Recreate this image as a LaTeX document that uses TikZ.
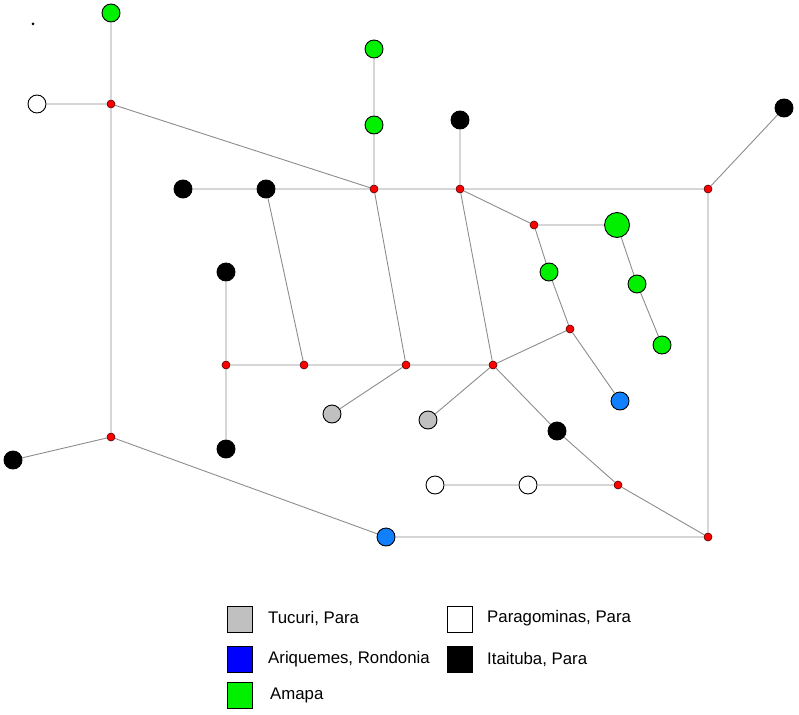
\documentclass[tikz,border=0pt]{standalone}
\usepackage{fontspec}
\setmainfont{Liberation Sans}
\definecolor{gr}{HTML}{00F000}
\definecolor{lb}{HTML}{1080FF}
\definecolor{tg}{HTML}{C0C0C0}
\definecolor{eg}{HTML}{8C8C8C}
\begin{document}
\begin{tikzpicture}[x=1pt,y=-1pt,
  hap/.style={circle,draw=black,line width=0.9pt,inner sep=0pt,minimum size=18pt},
  green/.style={hap,fill=gr},
  bigg/.style={hap,fill=gr,minimum size=25pt},
  white/.style={hap,fill=white},
  black/.style={hap,fill=black},
  gray/.style={hap,fill=tg},
  blue/.style={hap,fill=lb},
  med/.style={circle,draw=black!70!red,fill=red,line width=0.6pt,inner sep=0pt,minimum size=8pt},
  edge/.style={draw=eg,line width=0.9pt},
  leg/.style={draw=black,line width=1pt,minimum width=25pt,minimum height=26pt,inner sep=0pt},
  lt/.style={anchor=west,font=\fontsize{16.8pt}{19pt}\selectfont,inner sep=0pt}]
\useasboundingbox (0,0) rectangle (799,714);
% tiny dot
\node[circle,fill=black,inner sep=0pt,minimum size=3pt] (dot) at (33,24) {};
% haplotypes
\node[green] (G1) at (111,13) {};
\node[white] (W1) at (37,104) {};
\node[med] (r1) at (111,104) {};
\node[green] (G2) at (374,49) {};
\node[green] (G3) at (374,125) {};
\node[black] (K1) at (460,120) {};
\node[black] (K2) at (784,108) {};
\node[black] (K3) at (183,189) {};
\node[black] (K4) at (266,189) {};
\node[med] (r2) at (374,189) {};
\node[med] (r3) at (460,189) {};
\node[med] (r4) at (708,189) {};
\node[med] (r5) at (534,225) {};
\node[bigg] (BG) at (617,225) {};
\node[green] (G4) at (549,272) {};
\node[green] (G5) at (637,284) {};
\node[green] (G6) at (662,345) {};
\node[med] (r6) at (570,329) {};
\node[black] (K5) at (226,272) {};
\node[med] (r7) at (226,365) {};
\node[med] (r8) at (304,365) {};
\node[med] (r9) at (406,365) {};
\node[med] (r10) at (493,365) {};
\node[gray] (T1) at (332,414) {};
\node[gray] (T2) at (428,420) {};
\node[blue] (B1) at (620,401) {};
\node[black] (K6) at (226,449) {};
\node[black] (K7) at (557,431) {};
\node[med] (r11) at (111,437) {};
\node[black] (K8) at (13,460) {};
\node[white] (W2) at (435,485) {};
\node[white] (W3) at (528,485) {};
\node[med] (r12) at (618,485) {};
\node[blue] (B2) at (386,537) {};
\node[med] (r13) at (708,537) {};
% edges
\path[edge] (r1)--(G1) (r1)--(W1) (r1)--(r2) (r1)--(r11)
 (r2)--(G3) (G3)--(G2) (r2)--(K4) (K4)--(K3) (r2)--(r3) (r2)--(r9)
 (K4)--(r8)
 (r3)--(K1) (r3)--(r4) (r3)--(r5) (r3)--(r10)
 (r4)--(K2) (r4)--(r13)
 (r5)--(BG) (r5)--(G4) (G4)--(r6)
 (BG)--(G5) (G5)--(G6)
 (r6)--(r10) (r6)--(B1)
 (r7)--(K5) (r7)--(K6) (r7)--(r8) (r8)--(r9) (r9)--(r10)
 (r9)--(T1) (r10)--(T2)
 (r10)--(K7) (K7)--(r12) (r12)--(r13) (r12)--(W3) (W3)--(W2)
 (r11)--(K8) (r11)--(B2) (B2)--(r13);
% legend
\node[leg,fill=tg] (L1) at (239.5,619) {};
\node[lt] (t1) at (268,618) {Tucuri, Para};
\node[leg,fill=blue] (L2) at (239.5,659) {};
\node[lt] (t2) at (268,659) {Ariquemes, Rondonia};
\node[leg,fill=gr] (L3) at (239.5,695) {};
\node[lt] (t3) at (270,695) {Amapa};
\node[leg,fill=white] (L4) at (459.5,619) {};
\node[lt] (t4) at (487,618) {Paragominas, Para};
\node[leg,fill=black] (L5) at (459.5,659) {};
\node[lt] (t5) at (487,659) {Itaituba, Para};
\end{tikzpicture}
\end{document}
